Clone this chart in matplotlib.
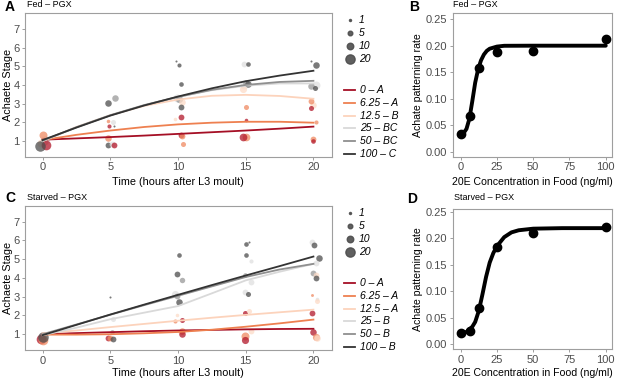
import matplotlib.pyplot as plt

plt.rcParams['font.family'] = ['Liberation Sans', 'DejaVu Sans']

W, H = 617, 381

# concentrations (ng/ml) and their colours
conc = ['0', '6.25', '12.5', '25', '50', '100']
colours = ['#B2182B', '#EF8A62', '#FDDBC7', '#E0E0E0', '#999999', '#4D4D4D']
line_colours = ['#A50F25', '#EE8050', '#FCD3BC', '#D9D9D9', '#8F8F8F', '#333333']
fed_groups = ['A', 'A', 'B', 'BC', 'BC', 'C']
starved_groups = ['A', 'A', 'A', 'B', 'B', 'B']
size_keys = [1, 5, 10, 20]

# fitted curves of stage vs time, one per concentration
fit_time = [0, 2.5, 5, 7.5, 10, 12.5, 15, 17.5, 20]
fed_fit = [
    [1.07, 1.14, 1.21, 1.29, 1.38, 1.47, 1.56, 1.66, 1.77],
    [1.05, 1.33, 1.56, 1.75, 1.89, 1.98, 2.03, 2.03, 1.98],
    [1.00, 1.75, 2.38, 2.88, 3.22, 3.42, 3.47, 3.41, 3.26],
    [1.00, 1.73, 2.37, 2.92, 3.36, 3.72, 3.96, 4.08, 4.08],
    [1.02, 1.74, 2.38, 2.92, 3.36, 3.74, 4.00, 4.16, 4.22],
    [1.05, 1.72, 2.36, 2.90, 3.38, 3.82, 4.20, 4.50, 4.76],
]
starved_fit = [
    [1.00, 1.06, 1.11, 1.16, 1.20, 1.23, 1.26, 1.28, 1.29],
    [0.98, 0.98, 1.00, 1.05, 1.12, 1.24, 1.40, 1.58, 1.78],
    [1.05, 1.20, 1.38, 1.55, 1.72, 1.88, 2.03, 2.17, 2.31],
    [0.95, 1.35, 1.80, 2.15, 2.50, 3.18, 3.87, 4.33, 4.75],
    [1.00, 1.52, 2.04, 2.55, 3.05, 3.55, 4.05, 4.45, 4.75],
    [0.95, 1.50, 2.05, 2.58, 3.10, 3.62, 4.13, 4.63, 5.14],
]

# observed points: (concentration index, time, stage, count)
fed_points = [
    (4, 0.1, 1.00, 15), (2, -0.1, 0.90, 15), (3, 0.2, 1.05, 18),
    (1, 0.0, 1.33, 15), (0, 0.25, 0.78, 22), (5, -0.2, 0.75, 26),
    (5, 4.86, 3.04, 10), (4, 5.36, 3.28, 10), (3, 5.2, 2.04, 6),
    (1, 4.85, 2.05, 3), (0, 4.92, 1.80, 4), (5, 5.3, 1.80, 1),
    (1, 4.8, 1.16, 10), (5, 4.8, 0.77, 8), (3, 5.1, 0.82, 8), (0, 5.3, 0.77, 8),
    (5, 9.85, 5.28, 1), (5, 10.1, 5.05, 4), (5, 10.25, 4.04, 5),
    (3, 9.9, 3.28, 15), (4, 10.1, 3.25, 12), (2, 10.3, 3.07, 10),
    (5, 10.2, 2.84, 8), (2, 9.75, 2.19, 3), (0, 10.25, 2.26, 8),
    (0, 10.2, 1.30, 8), (1, 10.3, 1.25, 8), (1, 10.4, 0.86, 6),
    (3, 14.9, 5.10, 8), (5, 15.2, 5.10, 5), (3, 14.9, 3.99, 15),
    (4, 15.0, 4.10, 10), (5, 15.2, 4.04, 10), (2, 14.8, 3.78, 12),
    (1, 15.05, 2.80, 6), (0, 15.05, 2.15, 3),
    (1, 15.0, 1.21, 14), (0, 14.8, 1.19, 14),
    (5, 19.85, 5.30, 1), (5, 20.2, 5.05, 10), (3, 20.2, 3.99, 15),
    (4, 19.8, 3.92, 10), (5, 20.1, 3.81, 6), (2, 20.0, 2.93, 10),
    (1, 19.8, 3.16, 8), (0, 19.8, 2.75, 6), (1, 20.2, 2.00, 4),
    (1, 20.0, 1.12, 8), (0, 20.0, 0.98, 5),
]
starved_points = [
    (0, -0.1, 0.75, 22), (1, 0.05, 0.70, 22), (5, 0.05, 0.85, 26),
    (5, 4.95, 2.98, 1), (3, 5.2, 1.80, 6), (4, 5.1, 1.12, 5),
    (0, 4.8, 0.80, 8), (1, 4.95, 0.80, 8), (5, 5.2, 0.72, 8),
    (5, 10.1, 5.23, 5), (5, 9.9, 4.22, 8), (4, 10.3, 3.87, 7),
    (3, 9.8, 3.12, 12), (4, 9.9, 3.05, 8), (5, 10.1, 2.72, 10),
    (2, 9.9, 2.00, 3), (1, 9.8, 1.69, 4), (0, 10.3, 1.74, 6),
    (2, 10.2, 1.12, 8), (1, 10.3, 1.18, 10), (0, 10.3, 1.03, 10),
    (5, 15.25, 5.94, 1), (5, 15.05, 5.81, 5), (5, 15.05, 5.20, 5),
    (3, 15.4, 4.88, 4), (4, 14.98, 4.17, 5), (3, 15.4, 3.81, 8),
    (3, 14.98, 3.25, 8), (5, 15.15, 3.12, 6), (0, 14.98, 2.15, 6),
    (2, 15.25, 2.22, 6), (2, 15.4, 1.18, 8), (1, 14.98, 0.91, 15),
    (0, 14.93, 0.68, 12),
    (3, 19.9, 5.90, 8), (5, 20.05, 5.73, 8), (5, 20.4, 5.05, 10),
    (3, 20.2, 4.80, 8), (4, 20.0, 4.27, 8), (2, 20.2, 4.17, 8),
    (5, 20.2, 3.99, 8), (1, 19.9, 3.07, 2), (3, 20.25, 2.86, 3),
    (2, 20.3, 2.77, 6), (0, 19.9, 2.15, 8), (0, 20.0, 1.12, 10),
    (1, 20.2, 0.86, 12), (2, 20.3, 0.80, 10),
]

# dose response
dose = [0, 6.25, 12.5, 25, 50, 100]
fed_rate = [0.034, 0.067, 0.158, 0.188, 0.189, 0.212]
starved_rate = [0.021, 0.025, 0.068, 0.183, 0.210, 0.222]
fed_curve_x = [0, 2, 4, 6, 8, 10, 12, 14, 16, 18, 20, 25, 30, 50, 100]
fed_curve_y = [0.033, 0.035, 0.043, 0.062, 0.095, 0.130, 0.155, 0.172,
               0.183, 0.190, 0.194, 0.198, 0.1995, 0.1997, 0.1997]
starved_curve_x = [0, 4, 8, 10, 12.5, 15, 17.5, 20, 22.5, 25, 30, 35, 40, 50, 70, 100]
starved_curve_y = [0.021, 0.023, 0.033, 0.042, 0.063, 0.094, 0.127, 0.154,
                   0.172, 0.185, 0.202, 0.211, 0.215, 0.218, 0.219, 0.219]

S = 2.2  # marker area per count


def ax_at(x0, y0, x1, y1):
    return fig.add_axes([x0 / W, 1 - y1 / H, (x1 - x0) / W, (y1 - y0) / H])


def style(ax):
    for sp in ax.spines.values():
        sp.set_color('#9E9E9E')
        sp.set_linewidth(0.8)
    ax.tick_params(colors='#9E9E9E', labelcolor='#4D4D4D', labelsize=8,
                   length=2.5, width=0.7, pad=1.5)


def place_labels(ax, x_right_px, x_top_px):
    # label anchors given in figure pixels, turned into axes fractions
    x0, y0, w, h = ax.get_position().bounds
    ax.yaxis.set_label_coords((x_right_px / W - x0) / w, 0.5)
    ax.xaxis.set_label_coords(0.5, ((1 - x_top_px / H) - y0) / h)


def stage_panel(ax, points, fits):
    for ci, t, st, n in points:
        ax.scatter(t, st, s=S * n, color=colours[ci], alpha=0.75, lw=0, zorder=2)
    for i in range(len(conc)):
        ax.plot(fit_time, fits[i], color=line_colours[i], lw=1.3, zorder=3)
    ax.set_xlim(-1.3, 21.35)
    ax.set_ylim(0.16, 7.85)
    ax.set_xticks([0, 5, 10, 15, 20])
    ax.set_yticks(range(1, 8))
    ax.set_xlabel('Time (hours after L3 moult)', fontsize=7.8)
    ax.set_ylabel('Achaete Stage', fontsize=7.8)
    style(ax)


def dose_panel(ax, rate, cx, cy, ylim):
    ax.plot(cx, cy, color='black', lw=2.8, solid_capstyle='round', zorder=2)
    ax.plot(dose, rate, 'o', color='black', ms=6, zorder=3)
    ax.set_xlim(-5.5, 104.1)
    ax.set_ylim(*ylim)
    ax.set_xticks([0, 25, 50, 75, 100])
    ax.set_yticks([0, 0.05, 0.10, 0.15, 0.20, 0.25])
    ax.set_yticklabels(['0.00', '0.05', '0.10', '0.15', '0.20', '0.25'])
    ax.set_xlabel('20E Concentration in Food (ng/ml)', fontsize=7.6)
    ax.set_ylabel('Achate patterning rate', fontsize=7.6)
    style(ax)


def legends(top, groups):
    for k, n in enumerate(size_keys):
        y = 1 - (top + 13 * k) / H
        fig.add_artist(plt.Line2D([350 / W], [y], marker='o', ls='',
                                  ms=(S * n) ** 0.5, color='#4D4D4D', alpha=0.9))
        fig.text(359 / W, y, str(n), fontsize=7.5, style='italic', va='center')
    for i in range(len(conc)):
        y = 1 - (top + 70 + 12.8 * i) / H
        fig.add_artist(plt.Line2D([344 / W, 355 / W], [y, y], color=line_colours[i], lw=1.3))
        fig.text(360 / W, y, conc[i] + ' – ' + groups[i], fontsize=7.5,
                 style='italic', va='center')


fig = plt.figure(figsize=(W / 100, H / 100), dpi=100)

axA = ax_at(25, 13, 331.7, 156.7)
stage_panel(axA, fed_points, fed_fit)
place_labels(axA, 13, 177)
axC = ax_at(25, 205.7, 331.7, 350)
stage_panel(axC, starved_points, starved_fit)
place_labels(axC, 13, 368)

axB = ax_at(452.7, 13.3, 611.7, 156.7)
dose_panel(axB, fed_rate, fed_curve_x, fed_curve_y, (-0.0094, 0.2607))
place_labels(axB, 423, 177)
axD = ax_at(452.7, 209, 611.7, 349)
dose_panel(axD, starved_rate, starved_curve_x, starved_curve_y, (-0.009, 0.2551))
place_labels(axD, 423, 368)

legends(20, fed_groups)
legends(213, starved_groups)

for lab, x, y in [('A', 10, 7), ('B', 414, 7), ('C', 10, 198), ('D', 412, 199)]:
    fig.text(x / W, 1 - y / H, lab, fontsize=10, fontweight='bold', ha='center', va='center')
for lab, x, y in [('Fed – PGX', 27, 4.5), ('Fed – PGX', 453, 4.5),
                  ('Starved – PGX', 27, 197), ('Starved – PGX', 454, 197)]:
    fig.text(x / W, 1 - y / H, lab, fontsize=6.5, va='center')

fig.savefig('out.png', dpi=100)
